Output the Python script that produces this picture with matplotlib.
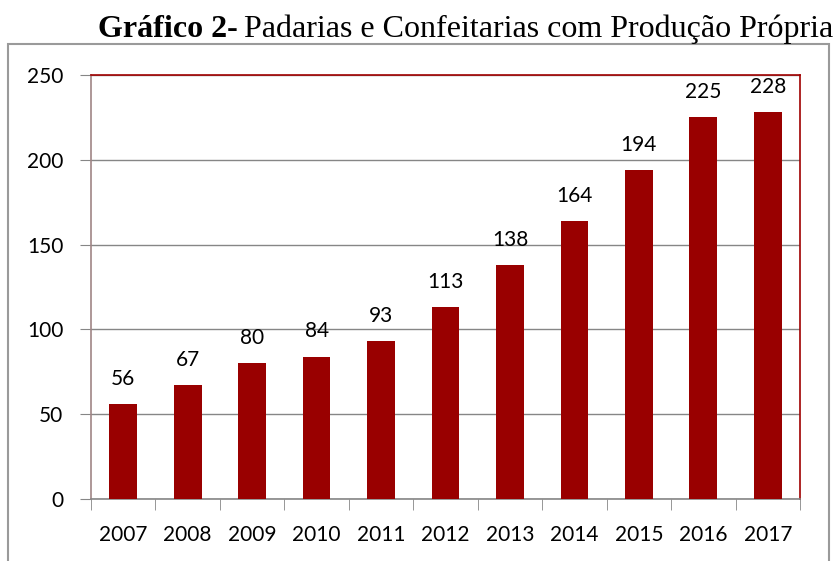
import numpy as np
import matplotlib.pyplot as plt
import matplotlib.patches as patches

anos = ['2007', '2008', '2009', '2010', '2011', '2012', '2013', '2014', '2015', '2016', '2017']
valores = [56, 67, 80, 84, 93, 113, 138, 164, 194, 225, 228]

fonte = 'Lato'

fig = plt.figure(figsize=(8.4, 5.61), dpi=100)
ax = fig.add_axes([91/840, 1 - 499/561, (800-91)/840, (499-75)/561])

x = np.arange(len(anos))
ax.bar(x, valores, width=0.43, color='#990000', zorder=3)
for xi, v in zip(x, valores):
    ax.text(xi, v + 9, str(v), ha='center', va='bottom', fontsize=15, family=fonte)

ax.set_xlim(-0.5, len(anos) - 0.5)
ax.set_ylim(0, 250)
ax.set_yticks([0, 50, 100, 150, 200, 250])
ax.set_xticks(x)
ax.set_xticklabels(anos)
ax.set_xticks(np.arange(len(anos) + 1) - 0.5, minor=True)
ax.tick_params(axis='x', which='major', length=0, pad=19, labelsize=15)
ax.tick_params(axis='x', which='minor', length=8, color='#868686', direction='out')
ax.tick_params(axis='y', length=8, color='#868686', labelsize=15, pad=12)
for lab in ax.get_xticklabels() + ax.get_yticklabels():
    lab.set_family(fonte)
ax.yaxis.grid(True, color='#868686', linewidth=1, zorder=0)

ax.spines['top'].set_color('#a00000')
ax.spines['right'].set_color('#a00000')
ax.spines['left'].set_color('#a08585')
ax.spines['bottom'].set_color('#868686')
for s in ax.spines.values():
    s.set_linewidth(1.2)

# moldura externa
fig.patches.append(patches.Rectangle((8/840, -0.02), (829-8)/840, 1 - 44/561 + 0.02,
                                     transform=fig.transFigure, fill=False,
                                     edgecolor='#9a9a9a', linewidth=1.5))

# titulo: parte em negrito + parte normal
t2 = fig.text(833/840, 1 - 37/561, 'Padarias e Confeitarias com Produção Própria',
              ha='right', va='baseline', fontsize=23, family='Liberation Serif')
fig.canvas.draw()
bb = t2.get_window_extent()
fig.text((bb.x0 - 6) / 840, 1 - 37/561, 'Gráfico 2-', ha='right', va='baseline',
         fontsize=23, family='Liberation Serif', weight='bold')

plt.savefig('out.png', dpi=100)
